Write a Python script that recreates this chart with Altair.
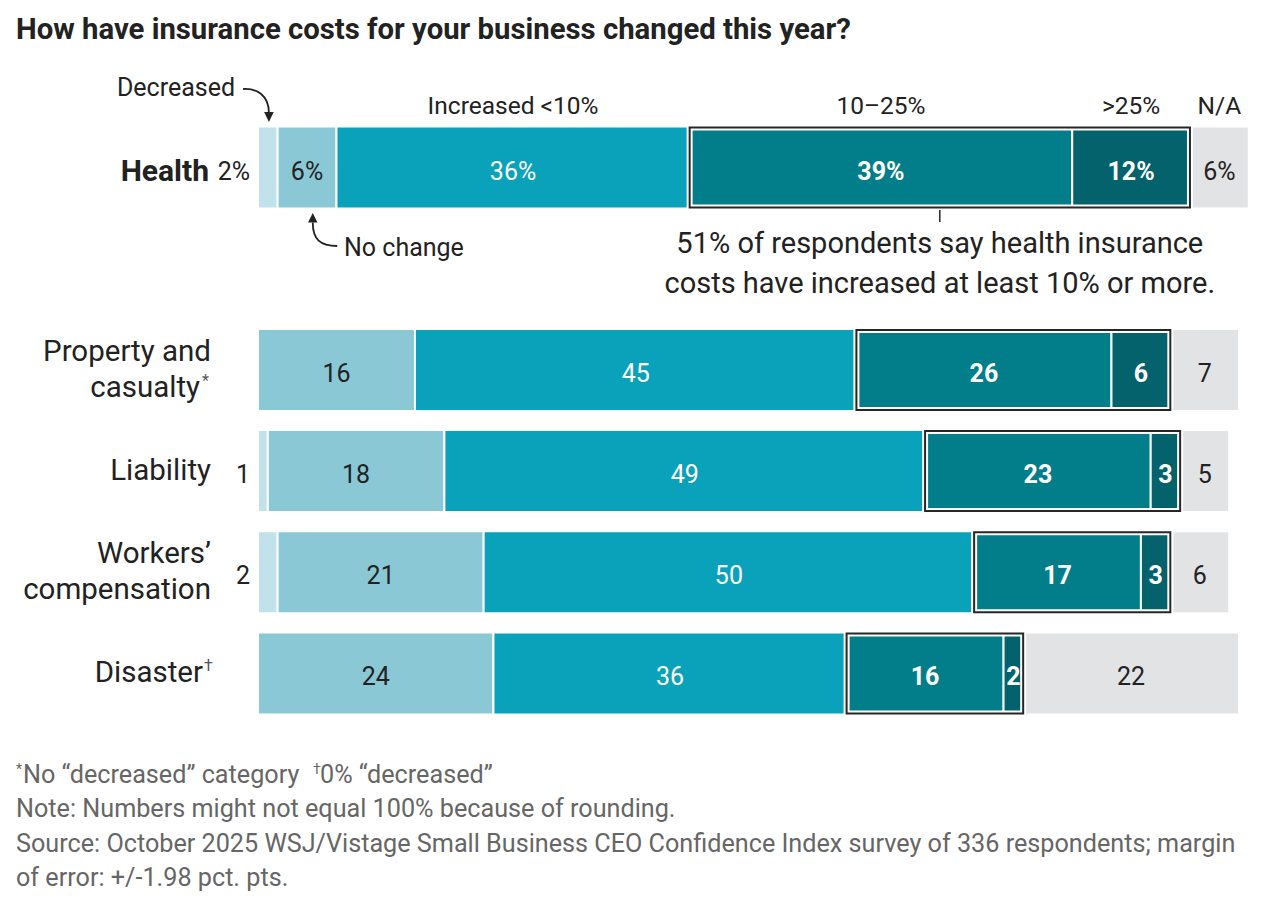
import altair as alt
import pandas as pd

# ---------------- data ----------------
rows = ["Health", "Property and casualty", "Liability", "Workers' compensation", "Disaster"]
row_line1 = ["Health", "Property and", "Liability", "Workers’", "Disaster"]
row_line2 = ["", "casualty", "", "compensation", ""]
row_marks = ["", "*", "", "", "†"]
categories = ["Decreased", "No change", "Increased <10%", "10–25%", ">25%", "N/A"]
colors = ["#c2e2eb", "#8bc8d6", "#0aa2bb", "#027e8b", "#03626b", "#e2e3e5"]

decreased = [2, None, 1, 2, 0]
no_change = [6, 16, 18, 21, 24]
inc_under10 = [36, 45, 49, 50, 36]
inc_10to25 = [39, 26, 23, 17, 16]
inc_over25 = [12, 6, 3, 3, 2]
not_applicable = [6, 7, 5, 6, 22]

title_text = "How have insurance costs for your business changed this year?"
callout_text = "51% of respondents say health insurance\ncosts have increased at least 10% or more."
foot_note1 = "No “decreased” category"
foot_note2 = "0% “decreased”"
foot_rest = ("Note: Numbers might not equal 100% because of rounding.\n"
             "Source: October 2025 WSJ/Vistage Small Business CEO Confidence Index survey of 336 respondents; margin\n"
             "of error: +/-1.98 pct. pts.")

series = [decreased, no_change, inc_under10, inc_10to25, inc_over25, not_applicable]
records = []
for i, r in enumerate(rows):
    cum = 0
    for c, vals in zip(categories, series):
        v = vals[i]
        if v is None or v == 0:
            continue
        records.append(dict(row=r, cat=c, value=v, start=cum, end=cum + v, mid=cum + v / 2,
                            label=(f"{v}%" if r == "Health" else str(v))))
        cum += v
df = pd.DataFrame(records)

box_records = []
for r in rows:
    sub = df[df.row == r]
    s = float(sub[sub.cat == "10–25%"].start.iloc[0])
    e = float(sub[sub.cat == ">25%"].end.iloc[0])
    box_records.append(dict(row=r, start=s, end=e, mid=(s + e) / 2))
box_df = pd.DataFrame(box_records)

label_df = pd.DataFrame({"row": rows, "l1": row_line1, "l2": row_line2, "sup": row_marks})

# ---------------- scales ----------------
FONT = "Roboto"
DARK = "#222222"
XS = alt.Scale(domain=[0, 100], nice=False, zero=True)
YS = alt.Scale(domain=[rows[0], " ", *rows[1:]], paddingInner=0.19, paddingOuter=0.095)


def X(f):
    return alt.X(f, scale=XS, axis=None)


def Y():
    return alt.Y("row:N", scale=YS, axis=None)


def only(cats):
    return alt.FieldOneOfPredicate(field="cat", oneOf=cats)


# ---------------- bars and boxes ----------------
bars = alt.Chart(df).mark_bar(stroke="white", strokeWidth=2).encode(
    x=X("start:Q"), x2="end:Q", y=Y(),
    color=alt.Color("cat:N", scale=alt.Scale(domain=categories, range=colors), legend=None),
)

halo = alt.Chart(box_df).mark_bar(filled=False, stroke="white", strokeWidth=6, height=80).encode(
    x=X("start:Q"), x2="end:Q", y=Y()
)
box = alt.Chart(box_df).mark_bar(filled=False, stroke="#262626", strokeWidth=2, height=80).encode(
    x=X("start:Q"), x2="end:Q", y=Y()
)

# ---------------- value labels ----------------
SEG = 25
SEG_DY = 4
seg_dark = alt.Chart(df).transform_filter(only(["No change", "N/A"])).mark_text(
    font=FONT, fontSize=SEG, color=DARK, baseline="middle", dy=SEG_DY
).encode(x=X("mid:Q"), y=Y(), text="label:N")

seg_white = alt.Chart(df).transform_filter(only(["Increased <10%"])).mark_text(
    font=FONT, fontSize=SEG, color="white", baseline="middle", dy=SEG_DY
).encode(x=X("mid:Q"), y=Y(), text="label:N")

seg_bold = alt.Chart(df).transform_filter(only(["10–25%", ">25%"])).mark_text(
    font=FONT, fontSize=SEG, fontWeight="bold", color="white", baseline="middle", dy=SEG_DY
).encode(x=X("mid:Q"), y=Y(), text="label:N")

seg_dec = alt.Chart(df).transform_filter(only(["Decreased"])).mark_text(
    font=FONT, fontSize=SEG, color=DARK, baseline="middle", align="right", dx=-8, dy=SEG_DY
).encode(x=X("start:Q"), y=Y(), text="label:N")

# ---------------- row labels ----------------
ROW = 29.5
SUP = 16


def row_text(pred, field, xv, dy, bold=False):
    kw = dict(font=FONT, fontSize=(30 if bold else ROW), color=DARK, align="right",
              baseline="middle", dy=dy)
    if bold:
        kw["fontWeight"] = "bold"
    return alt.Chart(label_df).transform_filter(pred).mark_text(**kw).encode(
        x=alt.value(xv), y=Y(), text=f"{field}:N")


is_health = alt.datum.row == "Health"
one_line = (alt.datum.row != "Health") & (alt.datum.l2 == "")
two_line = alt.datum.l2 != ""
no_sup = alt.datum.sup == ""
has_sup = alt.datum.sup != ""

row_layers = [
    row_text(is_health, "l1", -49, 4, bold=True),
    row_text(one_line & no_sup, "l1", -47, 0),
    row_text(one_line & has_sup, "l1", -55, 0),
    row_text(two_line, "l1", -47, -18),
    row_text(two_line & no_sup, "l2", -47, 18),
    row_text(two_line & has_sup, "l2", -58, 18),
]
sup_one = alt.Chart(label_df).transform_filter(one_line & has_sup).mark_text(
    font=FONT, fontSize=SUP, color="#555555", align="left", baseline="middle", dy=-7
).encode(x=alt.value(-54), y=Y(), text="sup:N")
sup_two = alt.Chart(label_df).transform_filter(two_line & has_sup).mark_text(
    font=FONT, fontSize=SUP, color="#555555", align="left", baseline="middle", dy=11
).encode(x=alt.value(-56), y=Y(), text="sup:N")

# ---------------- category headers & annotations ----------------
headers = alt.Chart(df).transform_filter(alt.datum.row == "Health").transform_filter(
    only(["Increased <10%", "10–25%", ">25%", "N/A"])
).mark_text(font=FONT, fontSize=24.5, color=DARK, baseline="middle", dy=-61).encode(
    x=X("mid:Q"), y=Y(), text="cat:N"
)

ann_df = pd.DataFrame({"t": ["Decreased", "No change"]})
dec_txt = alt.Chart(ann_df).transform_filter(alt.datum.t == "Decreased").mark_text(
    font=FONT, fontSize=25, color=DARK, align="right", baseline="middle"
).encode(x=alt.value(-23), y=alt.value(-29), text="t:N")
noc_txt = alt.Chart(ann_df).transform_filter(alt.datum.t == "No change").mark_text(
    font=FONT, fontSize=25, color=DARK, align="left", baseline="middle"
).encode(x=alt.value(86), y=alt.value(131), text="t:N")

# curved arrows drawn as custom symbol paths
one_df = pd.DataFrame({"k": [1]})
DEC_CURVE = "M -0.76 -0.94 C 0 -1.0 0.76 -0.6 0.76 0.47"
DEC_HEAD = "M 0.48 0.41 L 1.04 0.41 L 0.76 1 Z"
NOC_CURVE = "M -0.72 -0.44 C -0.72 0.56 -0.28 0.94 0.72 0.94"
NOC_HEAD = "M -1 -0.44 L -0.44 -0.44 L -0.72 -1 Z"


def arrow_part(shape, xv, yv, filled):
    if filled:
        m = alt.Chart(one_df).mark_point(shape=shape, size=1156, filled=True, fill=DARK,
                                          strokeWidth=0, opacity=1)
    else:
        m = alt.Chart(one_df).mark_point(shape=shape, size=1156, filled=False, stroke=DARK,
                                          strokeWidth=1.8, opacity=1)
    return m.encode(x=alt.value(xv), y=alt.value(yv))


arrows = [
    arrow_part(DEC_CURVE, -2, -12, False), arrow_part(DEC_HEAD, -2, -12, True),
    arrow_part(NOC_CURVE, 67, 113, False), arrow_part(NOC_HEAD, 67, 113, True),
]

tick = alt.Chart(box_df).transform_filter(alt.datum.row == "Health").mark_rule(
    color="#262626", strokeWidth=1.5).encode(x=X("mid:Q"), y=alt.value(93), y2=alt.value(105))

callout = alt.Chart(box_df).transform_filter(alt.datum.row == "Health").mark_text(
    font=FONT, fontSize=29, color=DARK, baseline="middle", lineBreak="\n", lineHeight=40,
    text=callout_text).encode(x=X("mid:Q"), y=alt.value(127))

# ---------------- title & footnotes ----------------
misc_df = pd.DataFrame({"title": [title_text], "n1": [foot_note1], "n2": [foot_note2],
                        "rest": [foot_rest], "s1": ["*"], "s2": ["†"]})
title = alt.Chart(misc_df).mark_text(font=FONT, fontSize=29.3, fontWeight="bold", color=DARK,
                                     align="left", baseline="middle").encode(
    x=alt.value(-242), y=alt.value(-87), text="title:N")

FOOT = 25.2
GREY = "#666666"


def foot_text(field, xv, yv, size=FOOT, **extra):
    return alt.Chart(misc_df).mark_text(font=FONT, fontSize=size, color=GREY, align="left",
                                        baseline="alphabetic", **extra).encode(
        x=alt.value(xv), y=alt.value(yv), text=f"{field}:N")


foots = [
    foot_text("n1", -235, 666),
    foot_text("n2", 62, 666),
    foot_text("s1", -242, 657, size=14),
    foot_text("s2", 55, 657, size=14),
    foot_text("rest", -242, 700, lineBreak="\n", lineHeight=34.5),
]

chart = alt.layer(
    bars, halo, box, seg_dark, seg_white, seg_bold, seg_dec,
    *row_layers, sup_one, sup_two, headers,
    dec_txt, noc_txt, *arrows, tick, callout, title, *foots
).properties(
    width=981, height=607,
    autosize=alt.AutoSizeParams(type="none"),
    padding={"left": 250, "top": 109, "right": 19, "bottom": 184},
).configure_view(stroke=None)

chart.save("out.html", embed_options={"renderer": "svg", "actions": False})
